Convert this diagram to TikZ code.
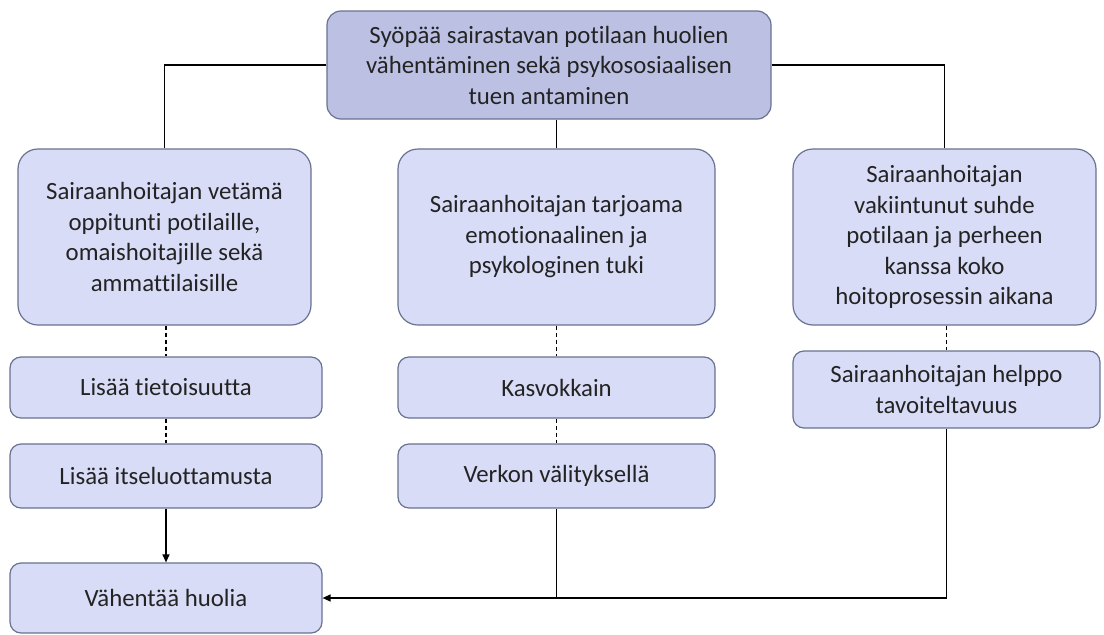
\documentclass[tikz,border=0pt]{standalone}
\usepackage{fontspec}
\setmainfont[Ligatures=NoCommon]{Carlito}
\usetikzlibrary{arrows.meta}
\definecolor{boxfill}{RGB}{216,220,246}
\definecolor{topfill}{RGB}{188,193,228}
\definecolor{boxline}{RGB}{105,114,145}
\definecolor{txt}{RGB}{35,35,35}
\tikzset{
  box/.style={draw=boxline, line width=1.2pt, fill=boxfill, rounded corners=20pt, inner sep=0pt, align=center, text=txt, font=\fontsize{24.8}{30.5}\selectfont},
  sbox/.style={box, rounded corners=11pt},
  conn/.style={line width=1.3pt, black},
  dconn/.style={conn, dashed, dash pattern=on 4pt off 3pt},
}
\begin{document}
\begin{tikzpicture}[x=1pt,y=-1pt]
\useasboundingbox (0,0) rectangle (1104,635);
\node[box, fill=topfill, rounded corners=14pt, minimum width=444pt, minimum height=108pt] (top) at (549,65) {Syöpää sairastavan potilaan huolien\\vähentäminen sekä psykososiaalisen\\tuen antaminen};
\node[box, minimum width=293pt, minimum height=176pt] (L) at (164.5,237) {Sairaanhoitajan vetämä\\oppitunti potilaille,\\omaishoitajille sekä\\ammattilaisille};
\node[box, minimum width=317pt, minimum height=176pt] (M) at (556.5,237) {Sairaanhoitajan tarjoama\\emotionaalinen ja\\psykologinen tuki};
\node[box, minimum width=303pt, minimum height=176pt] (R) at (944.5,237) {Sairaanhoitajan\\vakiintunut suhde\\potilaan ja perheen\\kanssa koko\\hoitoprosessin aikana};
\node[sbox, minimum width=312pt, minimum height=61pt] (L1) at (166,387.5) {Lisää tietoisuutta};
\node[sbox, minimum width=317pt, minimum height=61pt] (M1) at (556.5,387.5) {Kasvokkain};
\node[sbox, minimum width=307pt, minimum height=77pt] (R1) at (946.5,389.5) {Sairaanhoitajan helppo\\tavoiteltavuus};
\node[sbox, minimum width=312pt, minimum height=64pt] (L2) at (166,476) {Lisää itseluottamusta};
\node[sbox, minimum width=317pt, minimum height=64pt] (M2) at (556.5,476) {Verkon välityksellä};
\node[sbox, minimum width=312pt, minimum height=70pt] (L3) at (166,598) {Vähentää huolia};
% connectors
\draw[conn] (top.west) -| (L.north);
\draw[conn] (top.east) -| (R.north);
\draw[conn] (top.south -| M.north) -- (M.north);
\draw[dconn] (L.south -| L1.north) -- (L1.north);
\draw[dconn] (L1.south) -- (L2.north);
\draw[dconn] (M.south) -- (M1.north);
\draw[dconn] (M1.south) -- (M2.north);
\draw[dconn] (R.south -| R1.north) -- (R1.north);
\draw[conn, -{Triangle[length=8pt,width=7pt]}] (L2.south) -- (L3.north);
\draw[conn, -{Triangle[length=8pt,width=7pt]}] (R1.south) |- (L3.east);
\draw[conn] (M2.south) -- (M2.south |- L3.east);
\end{tikzpicture}
\end{document}
